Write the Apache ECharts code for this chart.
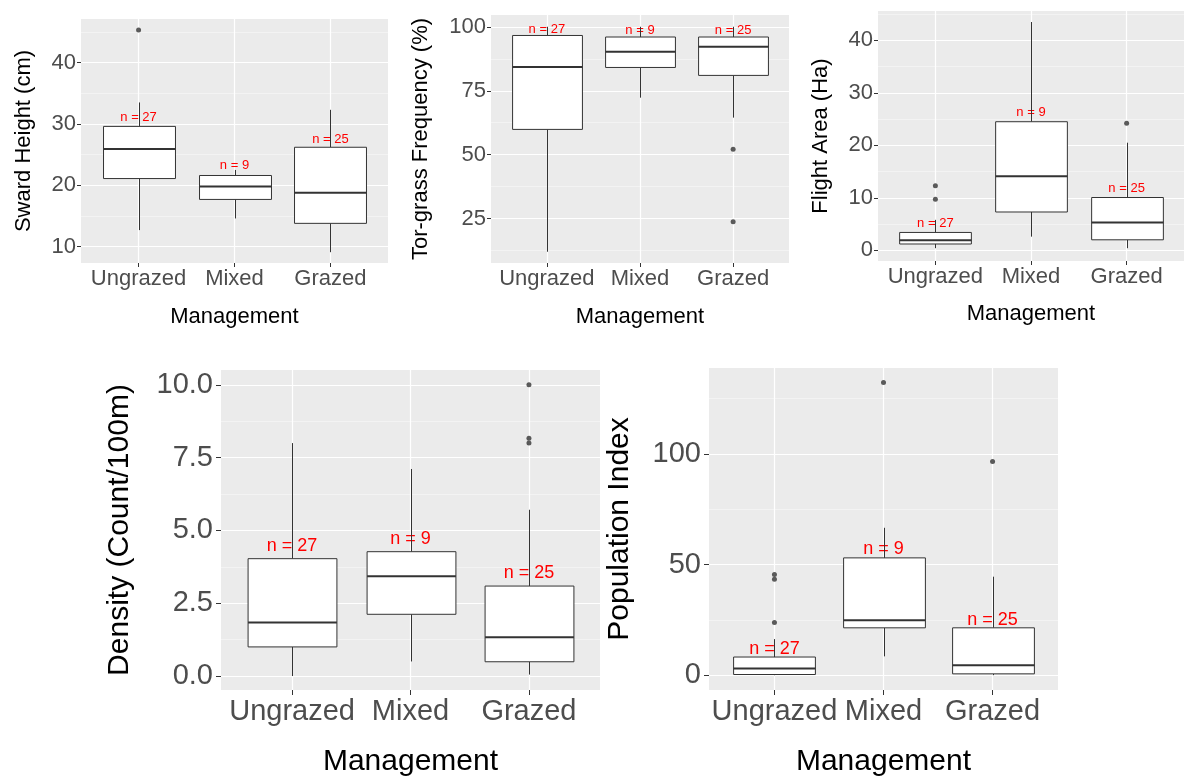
<!DOCTYPE html>
<html>
<head>
<meta charset="utf-8">
<script src="https://cdn.jsdelivr.net/npm/echarts@6/dist/echarts.min.js"></script>
<style>
  html, body { margin: 0; padding: 0; background: #fff; }
  #chart { width: 1184px; height: 778px; }
</style>
</head>
<body>
<div id="chart"></div>
<script>
// categories and sample sizes (same for every panel)
var categories = ['Ungrazed', 'Mixed', 'Grazed'];
var nCounts = [27, 9, 25];

// box stats per group: [lower whisker, Q1, median, Q3, upper whisker]
var swardStats = [[12.7, 21.1, 25.9, 29.6, 33.5], [14.6, 17.7, 19.8, 21.6, 22.5], [9.1, 13.8, 18.8, 26.2, 32.3]];
var swardOutliers = [[1, 45.3]];
var swardLabelY = [31.0, 23.2, 27.5];
var swardTicks = [10, 20, 30, 40];
var swardMinor = [15, 25, 35, 45];

var torStats = [[12.1, 59.9, 84.3, 96.6, 100], [72.3, 84.1, 90.2, 96, 100], [64.5, 81.0, 92.2, 96, 100]];
var torOutliers = [[3, 52.1], [3, 23.8]];
var torLabelY = [99.0, 98.4, 98.4];
var torTicks = [25, 50, 75, 100];
var torMinor = [12.5, 37.5, 62.5, 87.5];

var flightStats = [[0.4, 1.2, 1.9, 3.4, 5.8], [2.6, 7.3, 14.1, 24.5, 43.5], [0.4, 2.0, 5.3, 10.06, 20.5]];
var flightOutliers = [[1, 12.3], [1, 9.75], [3, 24.2]];
var flightLabelY = [5.2, 26.2, 11.8];
var flightTicks = [0, 10, 20, 30, 40];
var flightMinor = [5, 15, 25, 35, 45];

var densityStats = [[0.0, 1.0, 1.84, 4.03, 8.0], [0.5, 2.12, 3.43, 4.27, 7.11], [0.05, 0.49, 1.33, 3.09, 5.71]];
var densityOutliers = [[3, 10.0], [3, 8.17], [3, 8.0]];
var densityLabelY = [4.47, 4.69, 3.55];
var densityTicks = [0, 2.5, 5, 7.5, 10];
var densityMinor = [1.25, 3.75, 6.25, 8.75];

var popStats = [[0, 0.3, 3.0, 8.2, 16.3], [8.5, 21.4, 24.8, 53.0, 66.6], [0, 0.6, 4.5, 21.4, 44.5]];
var popOutliers = [[1, 45.5], [1, 43.4], [1, 23.8], [2, 132.2], [3, 96.6]];
var popLabelY = [11.8, 57.0, 25.0];
var popTicks = [0, 50, 100];
var popMinor = [25, 75, 125];

var FONT = '"Liberation Sans", Arial, sans-serif';

var panels = [
  { name: 'Sward Height (cm)', stats: swardStats, out: swardOutliers, labY: swardLabelY, ticks: swardTicks, minor: swardMinor,
    min: 7.34, max: 47.1, fmt: function (v) { return v; },
    grid: { left: 81, top: 19, width: 307, height: 244 }, big: false, yGap: 46, xGap: 43 },
  { name: 'Tor-grass Frequency (%)', stats: torStats, out: torOutliers, labY: torLabelY, ticks: torTicks, minor: torMinor,
    min: 7.7, max: 104.6, fmt: function (v) { return v; },
    grid: { left: 491, top: 15, width: 298, height: 248 }, big: false, yGap: 59, xGap: 43 },
  { name: 'Flight Area (Ha)', stats: flightStats, out: flightOutliers, labY: flightLabelY, ticks: flightTicks, minor: flightMinor,
    min: -2.04, max: 45.6, fmt: function (v) { return v; },
    grid: { left: 878, top: 11, width: 313, height: 250 }, big: false, yGap: 46, xGap: 42 },
  { name: 'Density (Count/100m)', stats: densityStats, out: densityOutliers, labY: densityLabelY, ticks: densityTicks, minor: densityMinor,
    min: -0.48, max: 10.51, fmt: function (v) { return v.toFixed(1); },
    grid: { left: 221, top: 370, width: 379, height: 322 }, big: true, yGap: 86, xGap: 57 },
  { name: 'Population Index', stats: popStats, out: popOutliers, labY: popLabelY, ticks: popTicks, minor: popMinor,
    min: -6.7, max: 138.8, fmt: function (v) { return v; },
    grid: { left: 709, top: 368, width: 349, height: 324 }, big: true, yGap: 74, xGap: 57 }
];

function renderBox(params, api) {
  var x = api.value(0);
  var lo = api.coord([x, api.value(1)]);
  var q1 = api.coord([x, api.value(2)]);
  var med = api.coord([x, api.value(3)]);
  var q3 = api.coord([x, api.value(4)]);
  var hi = api.coord([x, api.value(5)]);
  var hw = api.size([0.75, 0])[0] / 2;
  var cx = Math.round(lo[0]) + 0.5;
  var line = { stroke: '#333333', lineWidth: 1 };
  return {
    type: 'group',
    children: [
      { type: 'line', shape: { x1: cx, y1: hi[1], x2: cx, y2: q3[1] }, style: line },
      { type: 'line', shape: { x1: cx, y1: q1[1], x2: cx, y2: lo[1] }, style: line },
      { type: 'rect', shape: { x: cx - hw, y: q3[1], width: hw * 2, height: q1[1] - q3[1] },
        style: { fill: '#ffffff', stroke: '#333333', lineWidth: 1 } },
      { type: 'line', shape: { x1: cx - hw, y1: med[1], x2: cx + hw, y2: med[1] },
        style: { stroke: '#333333', lineWidth: 2 } }
    ]
  };
}

function makeLabelRenderer(size) {
  return function (params, api) {
    var p = api.coord([api.value(0), api.value(1)]);
    return {
      type: 'text',
      x: p[0], y: p[1],
      style: { text: 'n = ' + api.value(2), fill: '#ff0000', font: size + 'px ' + FONT,
               align: 'center', verticalAlign: 'middle' }
    };
  };
}

var grids = [], xAxes = [], yAxes = [], series = [];

panels.forEach(function (p, i) {
  var tickSize = p.big ? 29 : 22;
  var titleSize = p.big ? 30 : 22;
  var labelSize = p.big ? 18 : 13;
  grids.push({ left: p.grid.left, top: p.grid.top, width: p.grid.width, height: p.grid.height,
    show: true, backgroundColor: '#EBEBEB', borderWidth: 0 });

  xAxes.push({
    type: 'value', gridIndex: i, min: 0.4, max: 3.6,
    name: 'Management', nameLocation: 'middle', nameGap: p.xGap,
    nameTextStyle: { color: '#000', fontSize: titleSize, fontFamily: FONT },
    axisLine: { show: false, onZero: false },
    axisTick: { show: true, length: p.big ? 5 : 4, customValues: [1, 2, 3], lineStyle: { color: '#333333' } },
    axisLabel: { customValues: [1, 2, 3], color: '#4D4D4D', fontSize: tickSize, fontFamily: FONT, margin: p.big ? 7 : 5,
      formatter: function (v) { return categories[Math.round(v) - 1]; } },
    splitLine: { show: true, lineStyle: { color: '#ffffff', width: 1.2 } }
  });

  yAxes.push({
    type: 'value', gridIndex: i, min: p.min, max: p.max,
    name: p.name, nameLocation: 'middle', nameGap: p.yGap, nameRotate: 90,
    nameTextStyle: { color: '#000', fontSize: titleSize, fontFamily: FONT },
    axisLine: { show: false, onZero: false },
    axisTick: { show: true, length: p.big ? 5 : 4, customValues: p.ticks, lineStyle: { color: '#333333' } },
    axisLabel: { customValues: p.ticks, color: '#4D4D4D', fontSize: tickSize, fontFamily: FONT, margin: p.big ? 8 : 5,
      formatter: p.fmt },
    splitLine: { show: true, lineStyle: { color: '#ffffff', width: 1.2 } }
  });
  // minor grid lines
  yAxes.push({
    type: 'value', gridIndex: i, min: p.min, max: p.max, position: 'left',
    axisLine: { show: false, onZero: false },
    axisTick: { show: false, customValues: p.minor },
    axisLabel: { show: false },
    splitLine: { show: true, lineStyle: { color: '#F7F7F7', width: 0.7 } }
  });
  var yIdx = i * 2;

  series.push({
    type: 'custom', xAxisIndex: i, yAxisIndex: yIdx, z: 2,
    renderItem: makeLabelRenderer(labelSize),
    data: p.labY.map(function (y, k) { return [k + 1, y, nCounts[k]]; }),
    silent: true, animation: false
  });
  series.push({
    type: 'custom', xAxisIndex: i, yAxisIndex: yIdx, z: 3,
    renderItem: renderBox,
    data: p.stats.map(function (s, k) { return [k + 1].concat(s); }),
    silent: true, animation: false
  });
  series.push({
    type: 'scatter', xAxisIndex: i, yAxisIndex: yIdx, z: 4,
    symbolSize: 5, itemStyle: { color: '#333333' },
    data: p.out, silent: true, animation: false
  });
});

var chart = echarts.init(document.getElementById('chart'), null, { renderer: 'canvas' });
chart.setOption({
  animation: false,
  grid: grids,
  xAxis: xAxes,
  yAxis: yAxes,
  series: series
});
</script>
</body>
</html>
